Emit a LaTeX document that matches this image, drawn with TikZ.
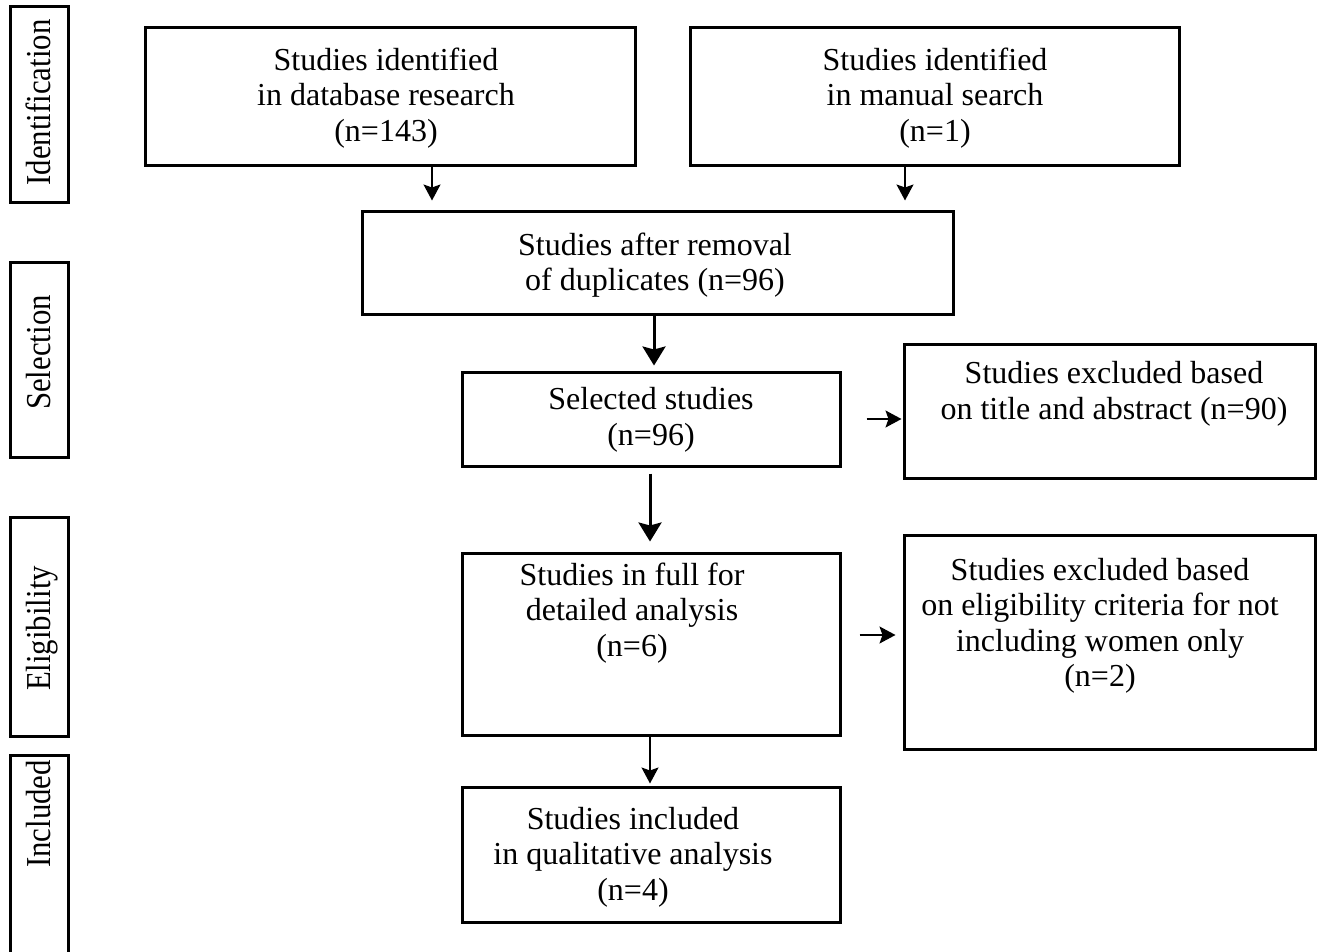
\documentclass[tikz,border=0pt]{standalone}
\usepackage{fontspec}
\setmainfont{Liberation Serif}
\newfontfamily\sidefont[FakeStretch=0.88]{Liberation Serif}
\usetikzlibrary{arrows.meta}
\begin{document}
\begin{tikzpicture}[x=1pt,y=-1pt,
  box/.style={draw=black,line width=3pt,rectangle,inner sep=0pt},
  txt/.style={align=center,inner sep=0pt,font=\fontsize{32}{35.5}\selectfont},
  side/.style={rotate=90,anchor=base,inner sep=0pt,font=\sidefont\fontsize{35}{36}\selectfont},
  thinarrow/.style={line width=1.6pt,-{Stealth[length=16pt,width=17pt,inset=3pt]}},
  thickarrow/.style={line width=3pt,-{Stealth[length=19pt,width=23pt,inset=3pt]}}]
\useasboundingbox (0,0) rectangle (1317,952);
% side boxes
\node[box,minimum width=58pt,minimum height=196pt] (sI) at (39,105) {};
\node[box,minimum width=58pt,minimum height=195pt] (sS) at (39,359.5) {};
\node[box,minimum width=58pt,minimum height=219pt] (sE) at (39,626.5) {};
\node[box,minimum width=58pt,minimum height=205pt] (sN) at (39,857.5) {};
\node[side] (tsI) at (50,102.5) {Identification};
\node[side] (tsS) at (50,352.5) {Selection};
\node[side] (tsE) at (50,628.5) {Eligibility};
\node[side] (tsN) at (50,814) {Included};
% main boxes
\node[box,minimum width=490pt,minimum height=138pt] (A) at (390,97) {};
\node[box,minimum width=489pt,minimum height=138pt] (B) at (934.5,97) {};
\node[box,minimum width=591pt,minimum height=102pt] (C) at (657.5,263) {};
\node[box,minimum width=378pt,minimum height=94pt] (D) at (651,419) {};
\node[box,minimum width=411pt,minimum height=134pt] (E) at (1109.5,411) {};
\node[box,minimum width=378pt,minimum height=182pt] (F) at (651,644) {};
\node[box,minimum width=411pt,minimum height=214pt] (G) at (1109.5,642) {};
\node[box,minimum width=378pt,minimum height=135pt] (H) at (651,854.5) {};
% texts
\node[txt] (tA) at (386,98) {Studies identified\\in database research\\(n=143)};
\node[txt] (tB) at (935,98) {Studies identified\\in manual search\\(n=1)};
\node[txt] (tC) at (655,265) {Studies after removal\\of duplicates (n=96)};
\node[txt] (tD) at (651,420) {Selected studies\\(n=96)};
\node[txt] (tE) at (1114,394) {Studies excluded based\\on title and abstract (n=90)};
\node[txt] (tF) at (632,613) {Studies in full for\\detailed analysis\\(n=6)};
\node[txt] (tG) at (1100,626) {Studies excluded based\\on eligibility criteria for not\\including women only\\(n=2)};
\node[txt] (tH) at (633,857) {Studies included\\in qualitative analysis\\(n=4)};
% connectors
\draw[thinarrow,shorten >=10pt] ([xshift=42pt]A.south) -- ([xshift=42pt]A.south |- C.north);
\draw[thinarrow,shorten >=10pt] ([xshift=-29.5pt]B.south) -- ([xshift=-29.5pt]B.south |- C.north);
\draw[thickarrow,shorten >=5pt] ([xshift=-3.5pt]C.south) -- ([xshift=-3.5pt]C.south |- D.north);
\draw[thickarrow,shorten <=6pt,shorten >=10pt] ([xshift=-1pt]D.south) -- ([xshift=-1pt]D.south |- F.north);
\draw[thinarrow,shorten >=2pt] ([xshift=-1pt]F.south) -- ([xshift=-1pt]F.south |- H.north);
\draw[thinarrow,shorten <=25pt,shorten >=1pt] (D.east) -- (D.east -| E.west);
\draw[thinarrow,shorten <=18pt,shorten >=7pt] ([yshift=9pt]F.east) -- ([yshift=9pt]F.east -| G.west);
\end{tikzpicture}
\end{document}
